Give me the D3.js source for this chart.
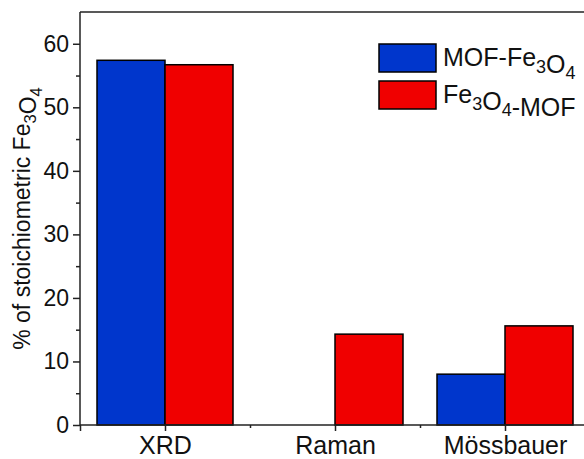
<!DOCTYPE html>
<html>
<head>
<meta charset="utf-8">
<script src="https://cdn.jsdelivr.net/npm/d3@7"></script>
<style>
  html, body { margin: 0; padding: 0; background: #fff; }
  svg { display: block; font-family: "Liberation Sans", Arial, sans-serif; }
</style>
</head>
<body>
<svg id="chart" width="584" height="459"></svg>
<script>
// Methods and the share of stoichiometric Fe3O4 each one finds
const categories = ["XRD", "Raman", "Mössbauer"];
const mofFe3O4 = [57.4, 0, 8.0];
const fe3o4Mof = [56.7, 14.3, 15.6];
const yTicks = [0, 10, 20, 30, 40, 50, 60];
const yMinorTicks = [5, 15, 25, 35, 45, 55];

const seriesNames = ["MOF-Fe3O4", "Fe3O4-MOF"];
const seriesColors = ["#0036CC", "#F00000"];
const seriesData = [mofFe3O4, fe3o4Mof];

const svg = d3.select("#chart");
const plotLeft = 80, plotRight = 590, plotTop = 12, plotBottom = 425;

const x = d3.scaleLinear().domain([0.5, 3.5]).range([plotLeft, plotRight]);
const y = d3.scaleLinear().domain([0, 65]).range([plotBottom, plotTop]);
const barW = 0.4;

// bars
seriesData.forEach((vals, s) => {
  svg.append("g").selectAll("rect")
    .data(vals.map((v, i) => ({ v, i })).filter(d => d.v > 0))
    .join("rect")
    .attr("x", d => s === 0 ? x(d.i + 1 - barW) : x(d.i + 1))
    .attr("width", x(barW) - x(0))
    .attr("y", d => y(d.v))
    .attr("height", d => y(0) - y(d.v))
    .attr("fill", seriesColors[s])
    .attr("stroke", "#000")
    .attr("stroke-width", 1.5);
});

const axisColor = "#222";
const textColor = "#111";

// y axis
const yAxis = svg.append("g").attr("transform", `translate(${plotLeft},0)`)
  .call(d3.axisLeft(y).tickValues(yTicks).tickSize(7).tickPadding(4).tickSizeOuter(0));
yAxis.select(".domain").remove();
yAxis.selectAll("line").attr("stroke", axisColor).attr("stroke-width", 1.5);
yAxis.selectAll("text").attr("font-size", 23).attr("fill", textColor)
  .attr("font-family", "Liberation Sans, Arial, sans-serif");
svg.append("g").attr("transform", `translate(${plotLeft},0)`)
  .call(d3.axisLeft(y).tickValues(yMinorTicks).tickSize(4).tickFormat(""))
  .call(g => g.select(".domain").remove())
  .selectAll("line").attr("stroke", axisColor).attr("stroke-width", 1.5);

// x axis
const xAxis = svg.append("g").attr("transform", `translate(0,${plotBottom})`)
  .call(d3.axisBottom(x).tickValues([1, 2, 3]).tickFormat((d) => categories[d - 1])
    .tickSize(6).tickPadding(5).tickSizeOuter(0));
xAxis.select(".domain").remove();
xAxis.selectAll("line").attr("stroke", axisColor).attr("stroke-width", 1.5);
xAxis.selectAll("text").attr("font-size", 25).attr("fill", textColor)
  .attr("font-family", "Liberation Sans, Arial, sans-serif");
svg.append("g").attr("transform", `translate(0,${plotBottom})`)
  .call(d3.axisBottom(x).tickValues([0.5, 1.5, 2.5]).tickSize(3).tickFormat(""))
  .call(g => g.select(".domain").remove())
  .selectAll("line").attr("stroke", axisColor).attr("stroke-width", 1.5)
  .attr("y2", d => d === 0.5 ? 6 : 3);

// frame lines
svg.append("line").attr("x1", plotLeft).attr("x2", plotLeft).attr("y1", plotTop).attr("y2", plotBottom)
  .attr("stroke", axisColor).attr("stroke-width", 1.5);
svg.append("line").attr("x1", plotLeft).attr("x2", 584).attr("y1", plotBottom).attr("y2", plotBottom)
  .attr("stroke", axisColor).attr("stroke-width", 1.5);
svg.append("line").attr("x1", plotLeft).attr("x2", 584).attr("y1", plotTop).attr("y2", plotTop)
  .attr("stroke", axisColor).attr("stroke-width", 1.5);

// text with Fe3O4 subscripts
function chemText(sel, parts, size) {
  parts.forEach(p => {
    if (p.sub) {
      sel.append("tspan").attr("font-size", size * 0.72).attr("dy", size * 0.26).text(p.t);
      sel.append("tspan").attr("font-size", size).attr("dy", -size * 0.26).text("");
    } else {
      sel.append("tspan").attr("font-size", size).text(p.t);
    }
  });
}
const feO = [{ t: "Fe" }, { t: "3", sub: true }, { t: "O" }, { t: "4", sub: true }];

// y title
const yt = svg.append("text")
  .attr("transform", `translate(30,${(plotTop + plotBottom) / 2}) rotate(-90)`)
  .attr("text-anchor", "middle").attr("fill", textColor);
chemText(yt, [{ t: "% of stoichiometric " }, ...feO], 23);

// legend
const legendParts = [
  [{ t: "MOF-" }, ...feO],
  [...feO, { t: "-MOF" }]
];
const lg = svg.append("g");
seriesNames.forEach((name, s) => {
  const yy = 44 + s * 37;
  lg.append("rect").attr("x", 379).attr("y", yy).attr("width", 57).attr("height", 28)
    .attr("fill", seriesColors[s]).attr("stroke", "#000").attr("stroke-width", 1.5);
  const t = lg.append("text").attr("x", 443).attr("y", yy + 22).attr("fill", textColor);
  chemText(t, legendParts[s], 25);
});
</script>
</body>
</html>
